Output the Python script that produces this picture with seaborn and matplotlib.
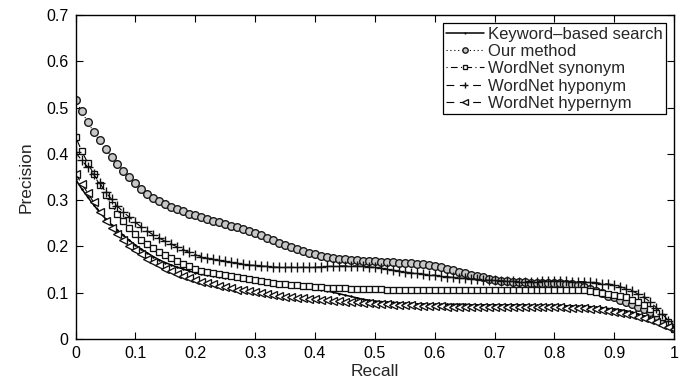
import numpy as np
import pandas as pd
import matplotlib
matplotlib.use("Agg")
import matplotlib.pyplot as plt
import seaborn as sns

recall = [round(i * 0.01, 2) for i in range(101)]

keyword = [0.345, 0.325, 0.307, 0.290, 0.274, 0.260, 0.247, 0.235, 0.224, 0.213,
           0.203, 0.194, 0.186, 0.178, 0.171, 0.165, 0.160, 0.155, 0.151, 0.147,
           0.143, 0.140, 0.138, 0.136, 0.134, 0.132, 0.131, 0.129, 0.128, 0.126,
           0.125, 0.124, 0.123, 0.122, 0.121, 0.119, 0.118, 0.116, 0.114, 0.112,
           0.110, 0.107, 0.104, 0.101, 0.098, 0.095, 0.092, 0.089, 0.086, 0.084,
           0.082, 0.081, 0.080, 0.079, 0.078, 0.077, 0.077, 0.076, 0.076, 0.075,
           0.075, 0.075, 0.075, 0.075, 0.075, 0.075, 0.074, 0.074, 0.074, 0.074,
           0.074, 0.074, 0.074, 0.074, 0.074, 0.074, 0.073, 0.073, 0.073, 0.073,
           0.073, 0.073, 0.072, 0.072, 0.071, 0.071, 0.070, 0.069, 0.068, 0.066,
           0.065, 0.063, 0.061, 0.058, 0.054, 0.050, 0.045, 0.040, 0.034, 0.028,
           0.022]

our_method = [0.516, 0.492, 0.469, 0.448, 0.429, 0.411, 0.394, 0.378, 0.364, 0.350,
              0.337, 0.325, 0.313, 0.305, 0.298, 0.292, 0.286, 0.281, 0.276, 0.271,
              0.267, 0.263, 0.259, 0.256, 0.252, 0.249, 0.245, 0.241, 0.237, 0.233,
              0.229, 0.224, 0.219, 0.213, 0.208, 0.203, 0.198, 0.194, 0.190, 0.186,
              0.183, 0.180, 0.178, 0.176, 0.174, 0.172, 0.171, 0.170, 0.169, 0.168,
              0.168, 0.167, 0.167, 0.166, 0.165, 0.165, 0.164, 0.163, 0.162, 0.160,
              0.158, 0.155, 0.152, 0.149, 0.145, 0.142, 0.139, 0.136, 0.133, 0.130,
              0.128, 0.126, 0.125, 0.124, 0.123, 0.123, 0.122, 0.122, 0.122, 0.122,
              0.122, 0.121, 0.120, 0.118, 0.116, 0.113, 0.109, 0.104, 0.099, 0.094,
              0.090, 0.085, 0.080, 0.075, 0.070, 0.065, 0.058, 0.050, 0.042, 0.033,
              0.024]

synonym = [0.437, 0.407, 0.381, 0.357, 0.333, 0.311, 0.290, 0.271, 0.254, 0.239,
           0.226, 0.214, 0.205, 0.197, 0.189, 0.182, 0.175, 0.168, 0.162, 0.157,
           0.152, 0.148, 0.145, 0.142, 0.140, 0.138, 0.136, 0.133, 0.131, 0.129,
           0.127, 0.125, 0.123, 0.122, 0.120, 0.119, 0.117, 0.116, 0.115, 0.114,
           0.113, 0.112, 0.111, 0.111, 0.110, 0.110, 0.109, 0.109, 0.109, 0.108,
           0.108, 0.108, 0.107, 0.107, 0.107, 0.107, 0.107, 0.107, 0.107, 0.107,
           0.107, 0.106, 0.106, 0.106, 0.106, 0.106, 0.106, 0.106, 0.106, 0.106,
           0.106, 0.106, 0.106, 0.106, 0.106, 0.106, 0.106, 0.106, 0.106, 0.106,
           0.106, 0.106, 0.106, 0.106, 0.106, 0.105, 0.103, 0.101, 0.099, 0.097,
           0.095, 0.093, 0.090, 0.085, 0.079, 0.073, 0.065, 0.056, 0.047, 0.037,
           0.022]

hyponym = [0.404, 0.386, 0.372, 0.356, 0.338, 0.318, 0.302, 0.287, 0.274, 0.263,
           0.252, 0.242, 0.233, 0.225, 0.218, 0.211, 0.205, 0.199, 0.193, 0.187,
           0.182, 0.178, 0.175, 0.172, 0.170, 0.168, 0.166, 0.164, 0.162, 0.160,
           0.159, 0.158, 0.157, 0.156, 0.155, 0.155, 0.155, 0.155, 0.155, 0.155,
           0.155, 0.156, 0.157, 0.157, 0.158, 0.158, 0.158, 0.158, 0.157, 0.156,
           0.155, 0.153, 0.151, 0.149, 0.147, 0.145, 0.143, 0.142, 0.140, 0.139,
           0.138, 0.136, 0.135, 0.133, 0.132, 0.131, 0.130, 0.129, 0.128, 0.127,
           0.127, 0.126, 0.125, 0.125, 0.124, 0.124, 0.124, 0.124, 0.125, 0.125,
           0.125, 0.125, 0.125, 0.124, 0.124, 0.124, 0.123, 0.122, 0.120, 0.119,
           0.117, 0.113, 0.109, 0.104, 0.097, 0.090, 0.080, 0.068, 0.055, 0.040,
           0.025]

hypernym = [0.357, 0.336, 0.316, 0.296, 0.275, 0.256, 0.240, 0.226, 0.214, 0.202,
            0.192, 0.183, 0.174, 0.166, 0.159, 0.152, 0.146, 0.141, 0.136, 0.132,
            0.128, 0.124, 0.121, 0.118, 0.115, 0.112, 0.110, 0.107, 0.105, 0.103,
            0.101, 0.099, 0.097, 0.095, 0.093, 0.091, 0.090, 0.089, 0.088, 0.087,
            0.086, 0.085, 0.084, 0.083, 0.082, 0.081, 0.080, 0.079, 0.078, 0.077,
            0.076, 0.076, 0.075, 0.074, 0.074, 0.073, 0.073, 0.072, 0.072, 0.071,
            0.071, 0.071, 0.070, 0.070, 0.070, 0.070, 0.070, 0.070, 0.069, 0.069,
            0.069, 0.069, 0.069, 0.069, 0.069, 0.069, 0.069, 0.069, 0.069, 0.069,
            0.069, 0.069, 0.068, 0.068, 0.068, 0.067, 0.066, 0.064, 0.062, 0.061,
            0.059, 0.057, 0.054, 0.051, 0.048, 0.045, 0.041, 0.036, 0.031, 0.026,
            0.021]

labels = ["Keyword\u2013based search", "Our method", "WordNet synonym",
          "WordNet hyponym", "WordNet hypernym"]
xticks = [0, 0.1, 0.2, 0.3, 0.4, 0.5, 0.6, 0.7, 0.8, 0.9, 1]
xticklabels = ["0", "0.1", "0.2", "0.3", "0.4", "0.5", "0.6", "0.7", "0.8", "0.9", "1"]
yticks = [0, 0.1, 0.2, 0.3, 0.4, 0.5, 0.6, 0.7]
yticklabels = ["0", "0.1", "0.2", "0.3", "0.4", "0.5", "0.6", "0.7"]

sns.set_style("ticks")
plt.rcParams["font.family"] = ["Liberation Sans", "DejaVu Sans"]

fig = plt.figure(figsize=(6.81, 3.84), dpi=100)
ax = fig.add_axes([0.111, 0.117, 0.879, 0.844])

styles = [
    dict(linestyle="-", marker=".", markersize=2, markerfacecolor="black",
         markeredgecolor="black", linewidth=1.1),
    dict(linestyle=(0, (1, 2.5)), marker="o", markersize=5.5, markerfacecolor="#c8c8c8",
         markeredgecolor="#1a1a1a", markeredgewidth=1.0, linewidth=0.8),
    dict(linestyle=(0, (1, 3, 6, 3)), marker="s", markersize=4.7, markerfacecolor="white",
         markeredgecolor="#111111", markeredgewidth=0.95, linewidth=0.8),
    dict(linestyle=(0, (7, 5)), marker="+", markersize=6.5, markeredgecolor="#111111",
         markeredgewidth=1.0, linewidth=0.8),
    dict(linestyle=(0, (7, 5)), marker="<", markersize=5.6, markerfacecolor="white",
         markeredgecolor="#111111", markeredgewidth=0.95, linewidth=0.8),
]
series = [keyword, our_method, synonym, hyponym, hypernym]

for vals, lab, st in zip(series, labels, styles):
    df = pd.DataFrame({"Recall": recall, "Precision": vals})
    sns.lineplot(data=df, x="Recall", y="Precision", ax=ax, color="black",
                 label=lab, sort=False, **st)

ax.set_xlim(0, 1)
ax.set_ylim(0, 0.7)
ax.set_xticks(xticks)
ax.set_xticklabels(xticklabels)
ax.set_yticks(yticks)
ax.set_yticklabels(yticklabels)
ax.tick_params(direction="in", length=5, width=0.8, top=True, right=True,
               labelsize=11.5, colors="black", pad=5)
for sp in ax.spines.values():
    sp.set_visible(True)
    sp.set_color("black")
    sp.set_linewidth(1.0)
ax.set_xlabel("Recall", fontsize=12.5, labelpad=2)
ax.set_ylabel("Precision", fontsize=12.5, labelpad=9)

leg = ax.legend(loc="upper right", fontsize=12, frameon=True, fancybox=False,
                edgecolor="black", framealpha=1, markerscale=0.7,
                handlelength=2.3, handletextpad=0.2, labelspacing=0.14,
                borderpad=0.2, borderaxespad=0.5)
leg.get_frame().set_linewidth(0.9)

fig.savefig("out.png", dpi=100)
